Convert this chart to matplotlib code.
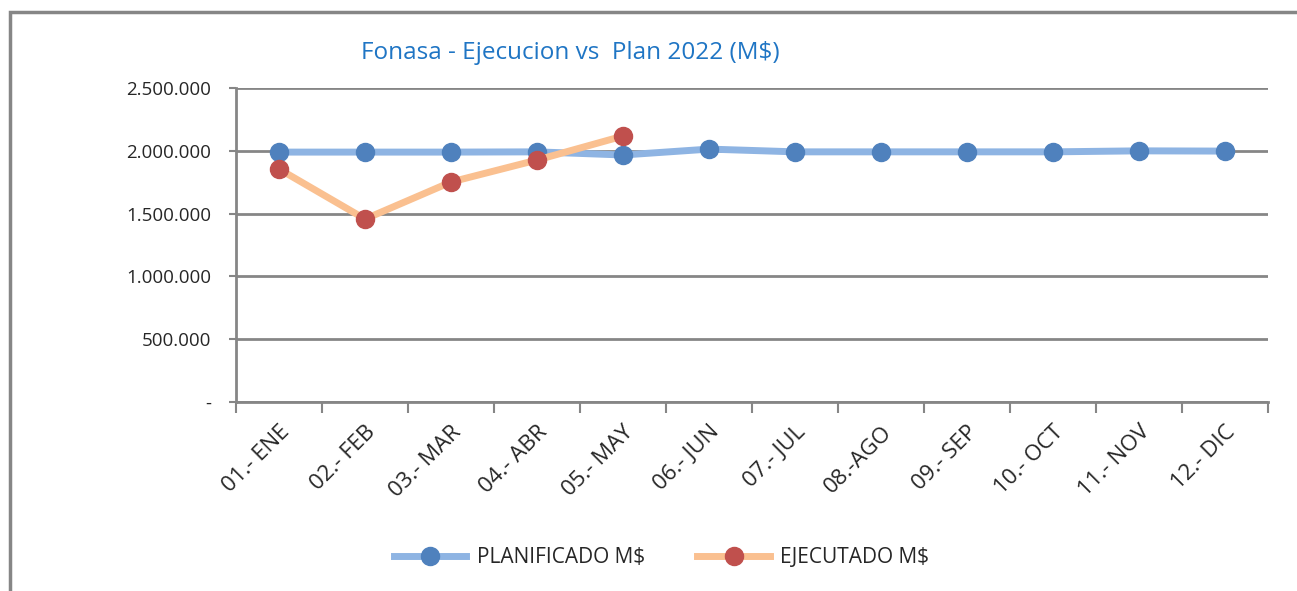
import matplotlib
matplotlib.use("Agg")
import matplotlib.pyplot as plt
from matplotlib.patches import Rectangle
from matplotlib.lines import Line2D
import numpy as np

months = ["01.- ENE", "02.- FEB", "03.- MAR", "04.- ABR", "05.- MAY", "06.- JUN",
          "07.- JUL", "08.-AGO", "09.- SEP", "10.- OCT", "11.- NOV", "12.- DIC"]
planificado = [1990000, 1990000, 1990000, 1992000, 1967000, 2014000,
               1992000, 1992000, 1992000, 1992000, 2000000, 1998000]
ejecutado = [1855000, 1457000, 1752000, 1927000, 2118000]
yticks = [0, 500000, 1000000, 1500000, 2000000, 2500000]
ytick_labels = ["-", "500.000", "1.000.000", "1.500.000", "2.000.000", "2.500.000"]

plt.rcParams['font.family'] = ['Open Sans', 'DejaVu Sans']

fig = plt.figure(figsize=(12.97, 5.91), dpi=100)
ax = fig.add_axes([0.182, 0.3198, 0.7957, 0.5312])

x = np.arange(len(months))
ax.plot(x, planificado, color="#8EB4E3", lw=5, marker="o", markersize=13,
        markerfacecolor="#4F81BD", markeredgecolor="#4F81BD", zorder=3,
        solid_capstyle="round")
ax.plot(x[:len(ejecutado)], ejecutado, color="#FAC090", lw=5, marker="o", markersize=13,
        markerfacecolor="#C0504D", markeredgecolor="#C0504D", zorder=4,
        solid_capstyle="round")

ax.set_xlim(-0.5, len(months) - 0.5)
ax.set_ylim(0, 2500000)
ax.set_yticks(yticks)
ax.set_yticklabels(ytick_labels, fontsize=13.5, color="#262626")
ax.yaxis.grid(True, color="#868686", lw=2)
ax.set_axisbelow(True)

ax.set_xticks(x)
ax.set_xticklabels(months, rotation=45, ha="right", rotation_mode="anchor",
                   fontsize=16, color="#262626")
ax.set_xticks(np.arange(-0.5, len(months)), minor=True)
ax.tick_params(axis="x", which="major", length=0, pad=14)
ax.tick_params(axis="x", which="minor", length=8, width=1.5, color="#868686")
ax.tick_params(axis="y", length=5, width=1.5, color="#868686", pad=13)

for s in ["top", "right"]:
    ax.spines[s].set_visible(False)
for s in ["left", "bottom"]:
    ax.spines[s].set_color("#868686")
    ax.spines[s].set_linewidth(2)

fig.text(0.44, 0.91, "Fonasa - Ejecucion vs  Plan 2022 (M$)", ha="center", va="center",
         fontsize=17.5, color="#1F75C4")

handles = [
    Line2D([], [], color="#8EB4E3", lw=5, marker="o", markersize=13,
           markerfacecolor="#4F81BD", markeredgecolor="#4F81BD"),
    Line2D([], [], color="#FAC090", lw=5, marker="o", markersize=13,
           markerfacecolor="#C0504D", markeredgecolor="#C0504D"),
]
fig.legend(handles, ["PLANIFICADO M$", "EJECUTADO M$"], loc="center",
           bbox_to_anchor=(0.51, 0.057), ncol=2, frameon=False, fontsize=15,
           handlelength=3.5, handletextpad=0.5, columnspacing=2.5, labelcolor="#262626")

fig.patches.append(Rectangle((10 / 1297, -0.05), 1.2, 1 - 12 / 591 + 0.05,
                             transform=fig.transFigure, fill=False,
                             edgecolor="#868686", lw=2.5))

fig.savefig("out.png", dpi=100)
